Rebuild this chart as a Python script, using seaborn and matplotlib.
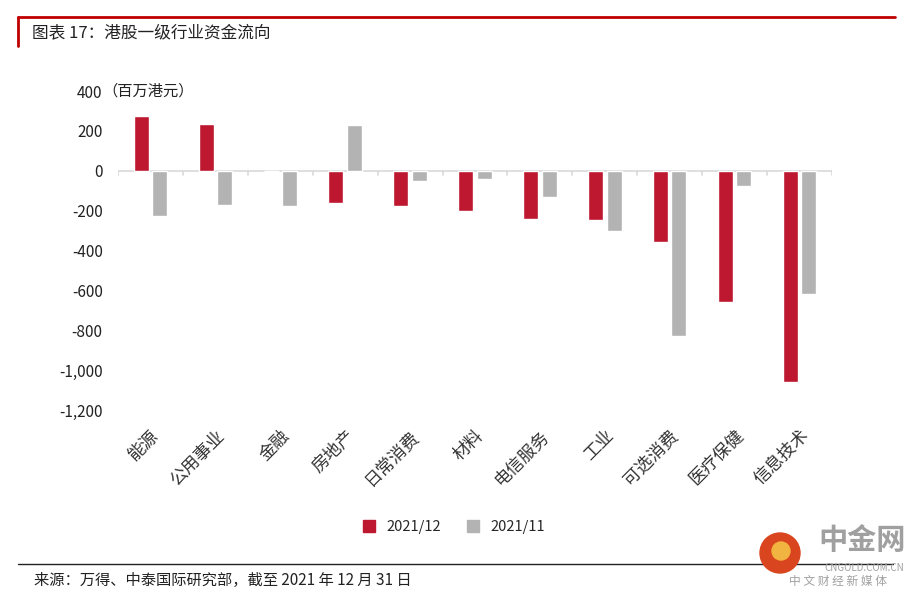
import pandas as pd
import numpy as np
import matplotlib.pyplot as plt
import seaborn as sns
from matplotlib.patches import Circle
from matplotlib.lines import Line2D

# data (百万港元)
sectors = ["能源", "公用事业", "金融", "房地产", "日常消费", "材料",
           "电信服务", "工业", "可选消费", "医疗保健", "信息技术"]
dec_2021 = [274, 235, 0, -163, -178, -200, -240, -245, -358, -657, -1062]
nov_2021 = [-227, -173, -178, 230, -50, -40, -134, -301, -828, -74, -618]
series_names = ["2021/12", "2021/11"]
yticks = [400, 200, 0, -200, -400, -600, -800, -1000, -1200]

sns.set_theme(style="white")
plt.rcParams['font.family'] = ['Noto Sans CJK SC', 'DejaVu Sans']
plt.rcParams['axes.unicode_minus'] = False

df = pd.DataFrame({
    "sector": sectors * 2,
    "value": dec_2021 + nov_2021,
    "month": [series_names[0]] * len(sectors) + [series_names[1]] * len(sectors),
})

fig = plt.figure(figsize=(9.24, 6), dpi=100)
ax = fig.add_axes([0.1277, 0.3167, 0.7727, 0.5316])

palette = {series_names[0]: "#BE1730", series_names[1]: "#B3B3B3"}
sns.barplot(data=df, x="sector", y="value", hue="month", palette=palette,
            width=0.57, gap=0.19, ax=ax, legend=False, saturation=1)

ax.set_ylim(-1200, 400)
ax.set_xlim(-0.5, len(sectors) - 0.5)
ax.set_yticks(yticks)
ax.set_yticklabels([f"{v:,}" for v in yticks], fontsize=11, color="#222222")
ax.tick_params(axis="y", length=0, pad=11)
ax.set_xlabel("")
ax.set_ylabel("")
for s in ax.spines.values():
    s.set_visible(False)

# zero line with category separators
ax.axhline(0, color="#D9D9D9", lw=1.2, zorder=0)
for b in np.arange(-0.5, len(sectors), 1.0):
    ax.plot([b, b], [0, -20], color="#D9D9D9", lw=1.2, zorder=0)

ax.set_xticks(range(len(sectors)))
ax.set_xticklabels(sectors, rotation=45, ha="right", rotation_mode="anchor",
                   fontsize=12.5, color="#333333")
ax.tick_params(axis="x", length=0, pad=12)

# unit next to top tick
fig.text(102 / 924, 1 - 91 / 600, "（百万港元）", fontsize=11,
         color="#222222", va="center", ha="left")

# legend
handles = [Line2D([], [], marker="s", ls="", color=palette[n], markersize=8)
           for n in series_names]
fig.legend(handles, series_names, loc="center", ncol=2, frameon=False,
           bbox_to_anchor=(0.487, 0.122), fontsize=10.5, handletextpad=0.2,
           columnspacing=1.2)

# header / footer frame
fig.add_artist(Line2D([18 / 924, 895 / 924], [1 - 17 / 600] * 2, color="#C00000", lw=2))
fig.add_artist(Line2D([18 / 924, 18 / 924], [1 - 17 / 600, 1 - 46 / 600], color="#C00000", lw=2))
fig.text(32 / 924, 1 - 33 / 600, "图表 17：港股一级行业资金流向", fontsize=12,
         color="#222222", va="center")
fig.add_artist(Line2D([18 / 924, 893 / 924], [1 - 564 / 600] * 2, color="#222222", lw=1))
fig.text(34 / 924, 1 - 580 / 600, "来源：万得、中泰国际研究部，截至 2021 年 12 月 31 日",
         fontsize=11, color="#222222", va="center")

# watermark (positions in inches)
fig.add_artist(Circle((7.80, 0.47), 0.20, transform=fig.dpi_scale_trans,
                      color="#D9451F", zorder=5))
fig.add_artist(Circle((7.81, 0.49), 0.09, transform=fig.dpi_scale_trans,
                      color="#F2B440", zorder=6))
fig.text(862 / 924, 1 - 540 / 600, "中金网", fontsize=21, color="#A0A0A0",
         ha="center", va="center", fontweight="bold")
fig.text(864 / 924, 1 - 568 / 600, "CNGOLD.COM.CN", fontsize=7, color="#A0A0A0",
         ha="center", va="center")
fig.text(838 / 924, 1 - 581 / 600, "中 文 财 经 新 媒 体", fontsize=8.5, color="#A0A0A0",
         ha="center", va="center")

fig.savefig("out.png", dpi=100)
